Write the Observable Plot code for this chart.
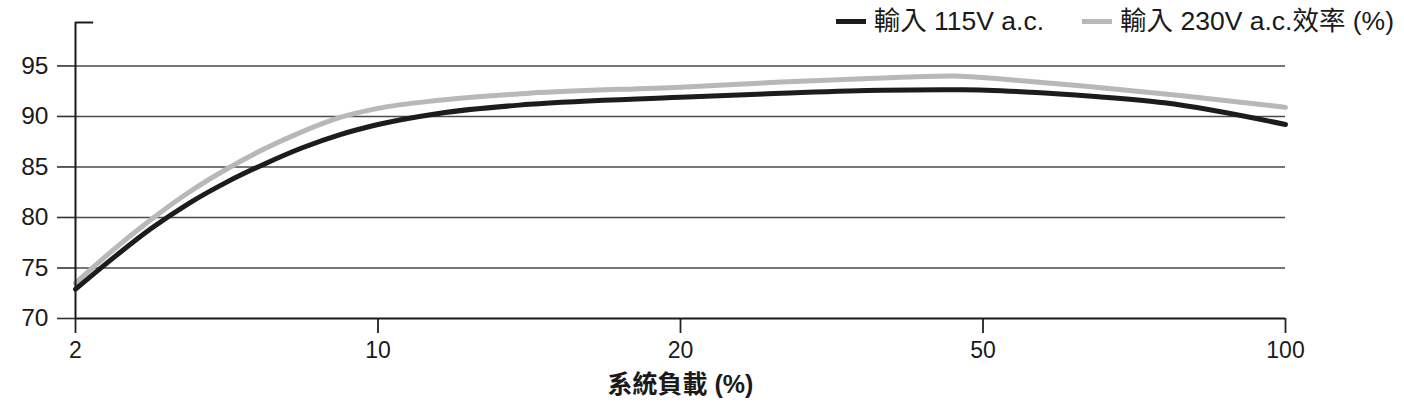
<!DOCTYPE html>
<html>
<head>
<meta charset="utf-8">
<script src="https://cdn.jsdelivr.net/npm/d3@7"></script>
<script src="https://cdn.jsdelivr.net/npm/@observablehq/plot@0.6"></script>
<style>
  html, body { margin: 0; padding: 0; background: #fff; }
  #wrap { position: relative; width: 1404px; height: 407px; font-family: "Liberation Sans", "Noto Sans CJK TC", sans-serif; }
  #legend { position: absolute; top: 8px; right: 10px; display: flex; align-items: center; font-size: 26.5px; line-height: 1; color: #1a1a1a; }
  .item { display: flex; align-items: center; margin-left: 38px; }
  .sw { width: 30px; height: 5px; margin-right: 8px; }
</style>
</head>
<body>
<div id="wrap">
  <div id="chart"></div>
  <div id="legend"></div>
</div>
<script>
// x tick labels (system load %)
const loadTicks = [2, 10, 20, 50, 100];
const yTicks = [70, 75, 80, 85, 90, 95];
const seriesNames = ["輸入 115V a.c.", "輸入 230V a.c.效率 (%)"];
const seriesColors = ["#1c1c1c", "#b8b8b8"];

// 115V efficiency curve (load %, efficiency %)
const load115 = [2, 3, 4, 5, 6, 7, 8, 9, 10, 12, 15, 20, 30, 40, 48, 58, 68, 80, 100];
const eff115  = [72.9, 76.0, 78.9, 81.4, 83.5, 85.3, 86.9, 88.2, 89.2, 90.3, 91.2, 91.9, 92.3, 92.6, 92.65, 92.4, 92.0, 91.35, 89.2];

// 230V efficiency curve
const load230 = [2, 3, 4, 5, 6, 7, 8, 9, 10, 12, 15, 20, 30, 40, 47, 55, 67, 83, 100];
const eff230  = [73.5, 76.8, 79.8, 82.5, 84.8, 86.8, 88.5, 89.9, 90.8, 91.6, 92.3, 92.9, 93.4, 93.8, 94.0, 93.6, 93.0, 92.05, 90.9];

const yMax = 99.3;
const xLabel = "系統負載 (%)";

const data = [
  ...load230.map((x, i) => ({load: x, eff: eff230[i], series: seriesNames[1]})),
  ...load115.map((x, i) => ({load: x, eff: eff115[i], series: seriesNames[0]}))
];

const font = "Liberation Sans, Noto Sans CJK TC, sans-serif";

const chart = Plot.plot({
  width: 1404,
  height: 407,
  marginLeft: 75,
  marginRight: 119,
  marginTop: 22,
  marginBottom: 89,
  style: {fontFamily: font, background: "#fff", color: "#1a1a1a"},
  x: {type: "linear", domain: loadTicks},
  y: {domain: [70, yMax]},
  color: {domain: seriesNames, range: seriesColors},
  marks: [
    Plot.ruleY(yTicks.slice(1), {stroke: "#4a4a4a", strokeWidth: 1.4}),
    Plot.axisY({ticks: yTicks, tickSize: 18, tickPadding: 9, fontSize: 24.5, stroke: "#333", strokeWidth: 1.6, label: null}),
    Plot.axisX({ticks: loadTicks, tickFormat: d => String(d), tickSize: 15, tickPadding: 8, fontSize: 23, stroke: "#222", strokeWidth: 1.8, label: null}),
    Plot.line(data, {x: "load", y: "eff", z: "series", stroke: "series", strokeWidth: 5, curve: "monotone-x"}),
    Plot.ruleY([70], {stroke: "#1a1a1a", strokeWidth: 2}),
    Plot.ruleX([2], {y1: 70, y2: yMax, stroke: "#1a1a1a", strokeWidth: 2}),
    Plot.ruleY([yMax], {x1: 2, x2: 2.48, stroke: "#1a1a1a", strokeWidth: 2}),
    Plot.text([xLabel], {frameAnchor: "bottom", dy: 74, fontSize: 25, fontWeight: "bold", fill: "#1a1a1a"})
  ]
});
document.getElementById("chart").appendChild(chart);

// legend
const legend = document.getElementById("legend");
seriesNames.forEach((name, i) => {
  const item = document.createElement("div");
  item.className = "item";
  const sw = document.createElement("div");
  sw.className = "sw";
  sw.style.background = seriesColors[i];
  const t = document.createElement("span");
  t.textContent = name;
  item.appendChild(sw);
  item.appendChild(t);
  legend.appendChild(item);
});
</script>
</body>
</html>
